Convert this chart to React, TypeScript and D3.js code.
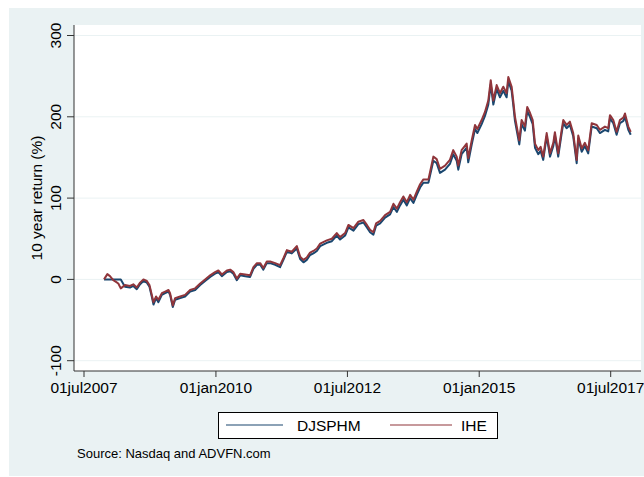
import React from "react";
import * as d3 from "d3";

// observation dates (shared by both series)
const dates = [
  "2007-11-17", "2007-12-10", "2007-12-28", "2008-01-20", "2008-02-08", "2008-02-24", "2008-03-12",
  "2008-04-10", "2008-05-15", "2008-06-07", "2008-07-01", "2008-07-24", "2008-08-16", "2008-09-09",
  "2008-09-27", "2008-10-13", "2008-10-25", "2008-11-12", "2008-11-28", "2008-12-22", "2009-01-14",
  "2009-02-06", "2009-02-17", "2009-03-08", "2009-03-24", "2009-04-28", "2009-06-01", "2009-07-06",
  "2009-08-10", "2009-09-14", "2009-10-18", "2009-11-22", "2009-12-26", "2010-01-18", "2010-02-11",
  "2010-03-18", "2010-04-10", "2010-05-02", "2010-05-26", "2010-06-18", "2010-07-23", "2010-08-26",
  "2010-09-18", "2010-10-12", "2010-11-04", "2010-11-26", "2010-12-20", "2011-01-12", "2011-02-16",
  "2011-03-22", "2011-04-14", "2011-05-08", "2011-06-11", "2011-07-16", "2011-08-08", "2011-08-31",
  "2011-09-23", "2011-10-16", "2011-11-08", "2011-12-02", "2011-12-25", "2012-02-09", "2012-03-15",
  "2012-04-18", "2012-05-11", "2012-06-15", "2012-07-08", "2012-08-12", "2012-09-15", "2012-10-20",
  "2012-11-13", "2012-12-05", "2012-12-28", "2013-01-16", "2013-02-13", "2013-03-19", "2013-04-23",
  "2013-05-16", "2013-06-09", "2013-07-01", "2013-07-24", "2013-08-17", "2013-09-09", "2013-10-02",
  "2013-10-25", "2013-11-17", "2013-12-10", "2014-01-14", "2014-02-17", "2014-03-12", "2014-04-04",
  "2014-05-09", "2014-06-12", "2014-07-05", "2014-07-29", "2014-08-09", "2014-09-01", "2014-10-06",
  "2014-10-17", "2014-11-10", "2014-12-03", "2014-12-19", "2015-01-18", "2015-02-10", "2015-03-05",
  "2015-03-22", "2015-04-09", "2015-05-02", "2015-05-25", "2015-06-17", "2015-07-10", "2015-07-22",
  "2015-08-14", "2015-08-25", "2015-09-06", "2015-10-06", "2015-10-22", "2015-11-14", "2015-11-30",
  "2015-12-19", "2016-01-07", "2016-01-23", "2016-02-15", "2016-03-02", "2016-03-20", "2016-04-13",
  "2016-05-06", "2016-05-29", "2016-06-09", "2016-07-02", "2016-07-26", "2016-08-06", "2016-08-29",
  "2016-09-21", "2016-10-14", "2016-11-07", "2016-11-18", "2016-12-12", "2017-01-03", "2017-01-26",
  "2017-02-19", "2017-03-26", "2017-04-17", "2017-05-22", "2017-06-14", "2017-06-26", "2017-07-19",
  "2017-08-11", "2017-09-03", "2017-09-27", "2017-10-08", "2017-10-31", "2017-11-17",
];

const djsphm = [
  0, 0, 0, 0, 0, 0, 0,
  -9, -10, -8, -12, -6, -2, -4,
  -9, -21, -31, -23, -28, -19, -17,
  -15, -19, -34, -25, -23, -21, -15,
  -13, -7, -2, 3, 7, 9, 4,
  9, 10, 7, -1, 5, 4, 3,
  13, 18, 18, 12, 20, 20, 18,
  15, 24, 34, 32, 38, 25, 21,
  24, 30, 32, 35, 41, 45, 47,
  54, 49, 54, 64, 60, 68, 70,
  64, 58, 55, 66, 69, 76, 80,
  89, 83, 91, 98, 91, 100, 94,
  104, 113, 119, 119, 146, 143, 131,
  135, 142, 154, 146, 135, 154, 162,
  144, 166, 185, 180, 191, 201, 215,
  240, 215, 234, 224, 232, 224, 244,
  232, 215, 195, 166, 191, 183, 207,
  200, 191, 162, 154, 158, 147, 176,
  151, 164, 177, 151, 180, 192, 186,
  190, 176, 143, 173, 157, 164, 155,
  188, 186, 180, 184, 182, 198, 192,
  178, 192, 195, 200, 184, 178,
];

const ihe = [
  0, 6.5, 4, -1, -3, -5, -11,
  -7, -8, -6, -10, -4, 0, -2,
  -7, -19, -28, -21, -25, -17, -15,
  -13, -17, -32, -23, -21, -19, -13,
  -11, -5, 0, 5, 9, 11, 6,
  11, 12, 9, 1, 7, 6, 5,
  15, 20, 20, 14, 22, 22, 20,
  17.5, 26, 36, 34, 41, 28, 24,
  27, 33, 35, 38, 44, 48, 50,
  57, 52, 57, 67, 63, 71, 73,
  67, 61, 58, 69, 72, 79, 83,
  93, 87, 95, 102, 95, 104, 98,
  108, 117, 123, 123, 151, 148, 136,
  140, 147, 159, 151, 140, 159, 167,
  149, 171, 190, 185, 196, 206, 220,
  245, 220, 239, 229, 237, 229, 249,
  237, 220, 200, 171, 196, 188, 212,
  205, 196, 167, 159, 163, 151, 180,
  155, 168, 181, 155, 184, 196, 190,
  194, 180, 147, 177, 161, 168, 159,
  192, 190, 184, 188, 186, 202, 196,
  181.5, 196, 199, 204, 188, 181.5,
];

const yTicks = [-100, 0, 100, 200, 300];
const xTickDates = ["2007-07-01", "2010-01-01", "2012-07-01", "2015-01-01", "2017-07-01"];
const xTickLabels = ["01jul2007", "01jan2010", "01jul2012", "01jan2015", "01jul2017"];

const seriesNames = ["DJSPHM", "IHE"];
const colors = ["#1A476F", "#90353B"];

const font = "'Liberation Sans', Arial, Helvetica, sans-serif";

const App: React.FC = () => {
  const width = 644;
  const height = 477;
  const plot = { left: 74, right: 641, top: 25, bottom: 371 };

  const parse = d3.timeParse("%Y-%m-%d");
  const x = d3
    .scaleTime()
    .domain([parse("2007-07-01")!, parse("2017-07-01")!])
    .range([84, 610.7]);
  const y = d3.scaleLinear().domain([-100, 300]).range([360.7, 35.5]);

  const series = [djsphm, ihe].map((vals) =>
    dates.map((d, i) => ({ date: parse(d)!, value: vals[i] }))
  );

  const line = d3
    .line<{ date: Date; value: number }>()
    .x((d) => x(d.date))
    .y((d) => y(d.value));

  return (
    <svg
      width={width}
      height={height}
      style={{ position: "absolute", left: 0, top: 0, fontFamily: font }}
    >
      {/* graph region background */}
      <rect x={9} y={8} width={635} height={468} fill="#EAF2F3" />
      {/* plot region */}
      <rect
        x={plot.left}
        y={plot.top}
        width={plot.right - plot.left}
        height={plot.bottom - plot.top}
        fill="#ffffff"
      />

      {/* gridlines */}
      {yTicks.map((t) => (
        <line
          key={"g" + t}
          x1={plot.left}
          x2={plot.right}
          y1={y(t)}
          y2={y(t)}
          stroke="#EAF2F3"
          strokeWidth={1}
        />
      ))}

      {/* series */}
      {series.map((s, i) => (
        <path
          key={seriesNames[i]}
          d={line(s) || ""}
          fill="none"
          stroke={colors[i]}
          strokeWidth={2}
          strokeLinejoin="round"
        />
      ))}

      {/* y axis */}
      <line x1={plot.left} x2={plot.left} y1={plot.top} y2={plot.bottom} stroke="#333" strokeWidth={1} />
      {yTicks.map((t) => (
        <g key={"y" + t}>
          <line x1={plot.left - 7} x2={plot.left} y1={y(t)} y2={y(t)} stroke="#333" strokeWidth={1} />
          <text
            transform={`translate(${61},${y(t)}) rotate(-90)`}
            textAnchor="middle"
            fontSize={15.5}
            fill="#000"
          >
            {t}
          </text>
        </g>
      ))}
      <text
        transform={`translate(${42},${(plot.top + plot.bottom) / 2}) rotate(-90)`}
        textAnchor="middle"
        fontSize={15.5}
        fill="#000"
      >
        10 year return (%)
      </text>

      {/* x axis */}
      <line x1={plot.left} x2={plot.right} y1={plot.bottom} y2={plot.bottom} stroke="#333" strokeWidth={1} />
      {xTickDates.map((d, i) => (
        <g key={d}>
          <line
            x1={x(parse(d)!)}
            x2={x(parse(d)!)}
            y1={plot.bottom}
            y2={plot.bottom + 6}
            stroke="#333"
            strokeWidth={1}
          />
          <text x={x(parse(d)!)} y={393} textAnchor="middle" fontSize={15.5} fill="#000">
            {xTickLabels[i]}
          </text>
        </g>
      ))}

      {/* legend */}
      <rect x={218.5} y={412.5} width={279} height={26} fill="#fff" stroke="#000" strokeWidth={1} />
      <line x1={226} x2={283} y1={425} y2={425} stroke={colors[0]} strokeWidth={1.2} />
      <text x={297} y={431} fontSize={15.5} fill="#000">
        {seriesNames[0]}
      </text>
      <line x1={390} x2={452} y1={425} y2={425} stroke={colors[1]} strokeWidth={1.2} />
      <text x={461} y={431} fontSize={15.5} fill="#000">
        {seriesNames[1]}
      </text>

      {/* note */}
      <text x={77} y={458} fontSize={13} fill="#000">
        Source: Nasdaq and ADVFN.com
      </text>
    </svg>
  );
};

export default App;
